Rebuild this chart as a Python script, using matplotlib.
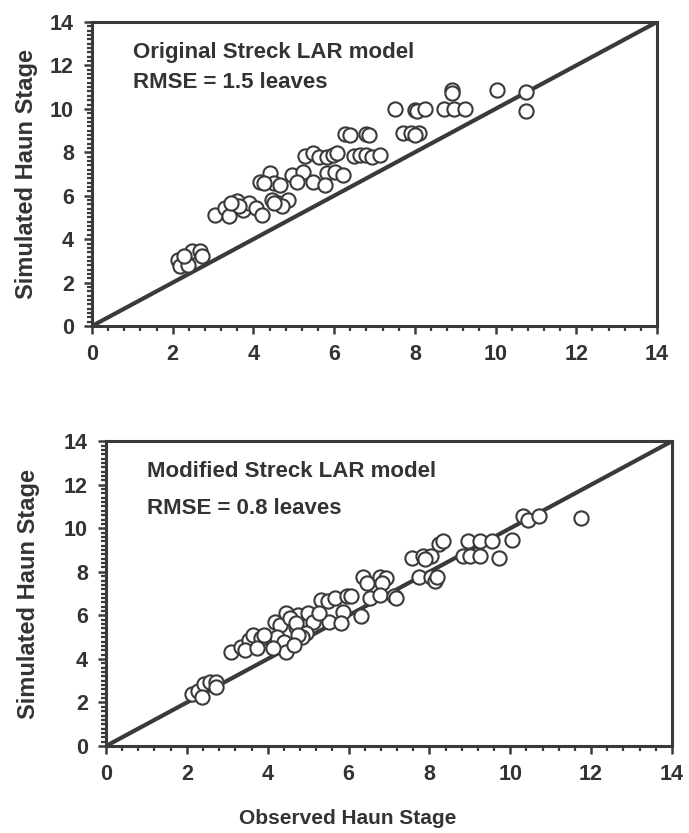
import numpy as np
import matplotlib.pyplot as plt
from matplotlib.ticker import MultipleLocator

plt.rcParams['font.family'] = ['Liberation Sans', 'DejaVu Sans']
plt.rcParams['font.weight'] = 'bold'

# Original Streck LAR model (observed, simulated)
obs_orig = [10.75, 10.75, 10.04, 8.93, 8.93, 8.73, 8.97, 9.25, 7.52, 8.0, 8.05, 8.25,
            7.71, 7.91, 8.1, 8.0, 6.26, 6.4, 6.79, 6.86,
            6.5, 6.65, 6.79, 6.94, 7.13,
            5.29, 5.48, 5.63, 5.82, 5.97, 6.06,
            4.95, 5.24, 5.09, 5.48, 5.82, 6.02, 6.21, 5.77,
            4.17, 4.41, 4.51, 4.66, 4.27,
            4.46, 4.61, 4.85, 4.7, 4.51,
            3.06, 3.3, 3.4, 3.59, 3.73, 3.88, 4.07, 4.22, 3.64, 3.44,
            2.13, 2.18, 2.38, 2.47, 2.67, 2.72, 2.28]
sim_orig = [10.79, 9.91, 10.89, 10.86, 10.75, 9.98, 9.98, 9.98, 9.98, 9.95, 9.9, 9.98,
            8.87, 8.87, 8.87, 8.8, 8.85, 8.8, 8.85, 8.8,
            7.83, 7.88, 7.88, 7.8, 7.88,
            7.83, 7.96, 7.77, 7.77, 7.88, 7.96,
            6.96, 7.11, 6.65, 6.65, 7.04, 7.11, 6.96, 6.5,
            6.65, 7.04, 6.58, 6.5, 6.58,
            5.81, 5.66, 5.81, 5.51, 5.66,
            5.13, 5.43, 5.05, 5.74, 5.36, 5.66, 5.43, 5.13, 5.51, 5.66,
            3.06, 2.75, 2.83, 3.44, 3.44, 3.21, 3.21]

# Modified Streck LAR model (observed, simulated)
obs_mod = [11.75, 10.32, 10.43, 10.7, 10.05, 9.71, 8.96, 9.25, 9.56, 8.82, 9.01, 9.25,
           8.24, 8.34, 7.56, 7.85, 8.04, 7.9, 7.75, 8.04, 8.14, 8.19,
           6.35, 6.45, 6.78, 6.93, 6.83, 6.54, 6.78, 7.12, 7.17,
           5.33, 5.48, 5.67, 5.96, 6.06, 5.86, 6.3, 5.52, 5.81,
           4.75, 5.0, 5.13, 5.28, 4.69, 4.94, 4.84,
           4.17, 4.31, 4.46, 4.55, 4.69, 4.22, 4.41, 4.46, 4.75, 4.65,
           3.1, 3.34, 3.54, 3.63, 3.83, 3.44, 3.73, 4.12, 3.92,
           2.13, 2.28, 2.42, 2.57, 2.71, 2.71, 2.37]
sim_mod = [10.45, 10.57, 10.39, 10.57, 9.45, 8.64, 9.42, 9.42, 9.42, 8.72, 8.72, 8.72,
           9.26, 9.42, 8.64, 8.72, 8.72, 8.57, 7.76, 7.76, 7.56, 7.76,
           7.76, 7.49, 7.76, 7.72, 7.49, 6.79, 6.95, 6.9, 6.79,
           6.71, 6.64, 6.79, 6.87, 6.87, 6.17, 5.97, 5.71, 5.63,
           6.02, 6.1, 5.71, 6.1, 5.48, 5.17, 5.02,
           5.71, 5.56, 6.1, 5.87, 5.63, 5.02, 4.79, 4.32, 5.1, 4.63,
           4.32, 4.55, 4.86, 5.09, 4.94, 4.4, 4.48, 4.5, 5.09,
           2.39, 2.55, 2.86, 2.93, 2.93, 2.7, 2.24]

panels = [
    (obs_orig, sim_orig, ['Original Streck LAR model', 'RMSE = 1.5 leaves'], 0.80, -0.095),
    (obs_mod, sim_mod, ['Modified Streck LAR model', 'RMSE = 0.8 leaves'], 0.78, -0.117),
]

dark = '#3a3a3a'
txtc = '#333333'
fig = plt.figure(figsize=(6.89, 8.33), dpi=100)
rects = [[0.1335, 0.6086, 0.820, 0.365], [0.1538, 0.1044, 0.8215, 0.366]]

for rect, (xo, ys, txt, y2, lx) in zip(rects, panels):
    ax = fig.add_axes(rect)
    ax.plot([0, 14], [0, 14], color=dark, lw=3.0, zorder=2)
    ax.scatter(xo, ys, s=105, facecolor='white', edgecolor=dark, linewidth=1.5, zorder=3)
    ax.set_xlim(0, 14)
    ax.set_ylim(0, 14)
    ax.xaxis.set_major_locator(MultipleLocator(2))
    ax.xaxis.set_minor_locator(MultipleLocator(0.4))
    ax.yaxis.set_major_locator(MultipleLocator(2))
    ax.yaxis.set_minor_locator(MultipleLocator(0.2))
    for s in ax.spines.values():
        s.set_linewidth(2.2)
        s.set_color(dark)
    ax.tick_params(which='major', direction='out', length=6, width=1.8, color=dark,
                   labelsize=15.5, labelcolor=txtc, pad=7)
    ax.tick_params(which='minor', direction='out', length=3.5, width=1.6, color=dark)
    for lab in ax.get_xticklabels() + ax.get_yticklabels():
        lab.set_fontweight('bold')
    ax.text(0.073, 0.90, txt[0], transform=ax.transAxes, fontsize=16, fontweight='bold',
            color=txtc, va='center')
    ax.text(0.073, y2, txt[1], transform=ax.transAxes, fontsize=16, fontweight='bold',
            color=txtc, va='center')
    ax.set_ylabel('Simulated Haun Stage', fontsize=17, fontweight='bold', color=txtc)
    ax.yaxis.set_label_coords(lx, 0.5)

fig.text(0.504, 0.018, 'Observed Haun Stage', fontsize=15, fontweight='bold',
         color=txtc, ha='center', va='center')

fig.savefig('out.png', dpi=100, facecolor='white')
